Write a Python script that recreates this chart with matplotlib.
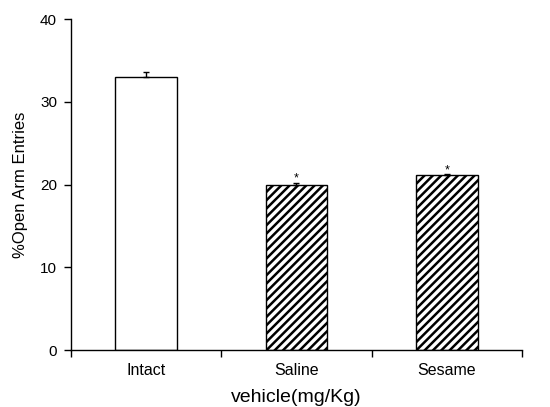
import matplotlib
matplotlib.use("Agg")
import matplotlib.pyplot as plt
import numpy as np

plt.rcParams['font.family'] = ['Liberation Sans', 'DejaVu Sans']
plt.rcParams['hatch.linewidth'] = 1.8

groups = ["Intact", "Saline", "Sesame"]
means = [33.0, 20.0, 21.1]
sems = [0.6, 0.25, 0.2]
significant = [False, True, True]
y_ticks = [0, 10, 20, 30, 40]

fig = plt.figure(figsize=(5.5, 4.07), dpi=100)
ax = fig.add_axes([0.129, 0.140, 0.820, 0.813])

x = np.arange(len(groups))
for i, (m, s) in enumerate(zip(means, sems)):
    hatched = i > 0
    ax.bar(x[i], m, width=0.41, facecolor='white', edgecolor='black',
           linewidth=1.0, hatch='////' if hatched else None, zorder=2)
    ax.errorbar(x[i], m, yerr=[[0], [s]], fmt='none', ecolor='black',
                elinewidth=1.0, capsize=2.5, capthick=1.0, zorder=3)
    if significant[i]:
        ax.text(x[i], m + s + 0.1, '*', ha='center', va='baseline', fontsize=9)

ax.set_xlim(-0.5, len(groups) - 0.5)
ax.set_ylim(0, 40)
ax.set_yticks(y_ticks)
ax.set_xticks(np.arange(len(groups) + 1) - 0.5)
ax.set_xticklabels([])
ax.set_xticks(x, minor=True)
ax.set_xticklabels(groups, minor=True, fontsize=11.5)
ax.tick_params(axis='x', which='minor', length=0, pad=9)
ax.tick_params(axis='x', which='major', direction='out', length=5, width=1)
ax.tick_params(axis='y', direction='out', length=5, width=1, labelsize=11, pad=5)

for side in ('top', 'right'):
    ax.spines[side].set_visible(False)
for side in ('left', 'bottom'):
    ax.spines[side].set_linewidth(1.0)

ax.set_xlabel('vehicle(mg/Kg)', fontsize=14, labelpad=8)
ax.set_ylabel('%Open Arm Entries', fontsize=12, labelpad=9)

fig.savefig('out.png', dpi=100)
